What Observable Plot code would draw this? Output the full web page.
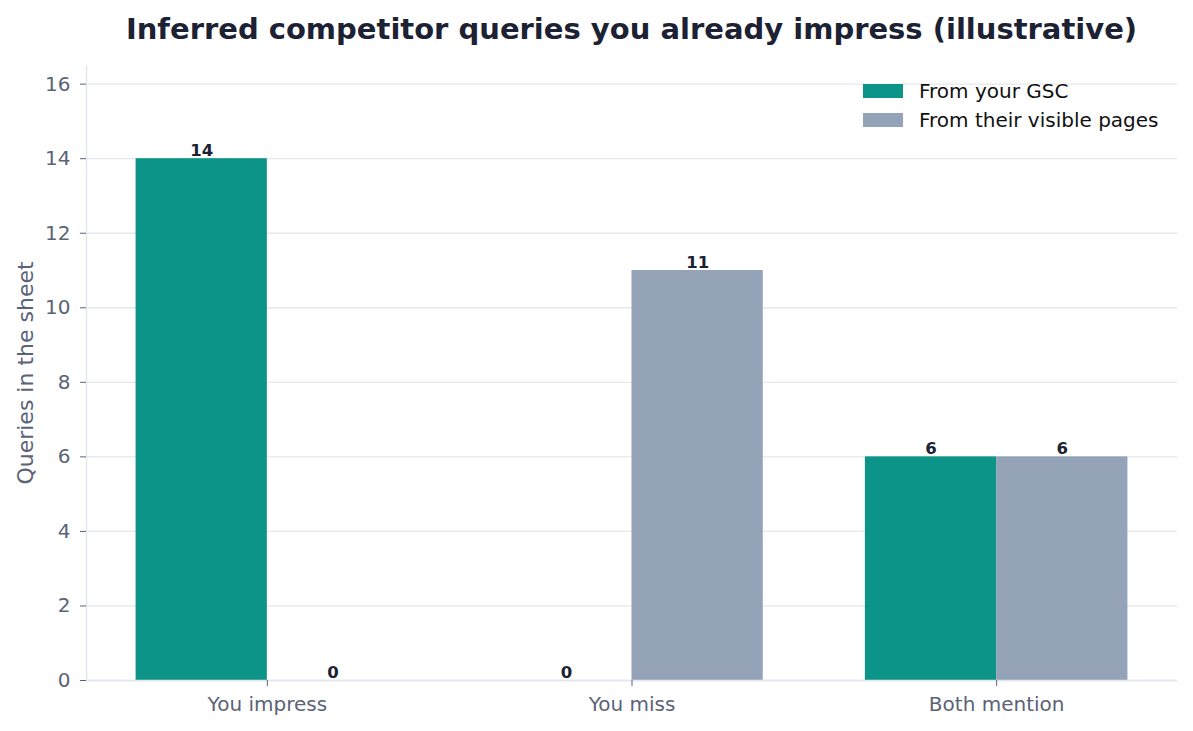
<!DOCTYPE html>
<html>
<head>
<meta charset="utf-8">
<script src="https://cdn.jsdelivr.net/npm/d3@7"></script>
<script src="https://cdn.jsdelivr.net/npm/@observablehq/plot@0.6"></script>
<style>
  html, body { margin: 0; padding: 0; background: #ffffff; }
  body { width: 1193px; height: 731px; overflow: hidden; font-family: "DejaVu Sans", sans-serif; position: relative; }
  #title { height: 56px; line-height: 58px; text-align: center; font-weight: bold; font-size: 29px; color: #1c2233; padding-left: 70px; box-sizing: border-box; white-space: nowrap; }
  #legend { position: absolute; left: 863px; top: 76px; font-size: 20px; color: #111; }
  .item { display: flex; align-items: center; height: 29px; }
  .swatch { width: 40px; height: 14px; margin-right: 16px; }
</style>
</head>
<body>
<div id="title">Inferred competitor queries you already impress (illustrative)</div>
<div id="chart"></div>
<div id="legend"></div>
<script>
const categories = ["You impress", "You miss", "Both mention"];
const gscValues = [14, 0, 6];
const visibleValues = [0, 11, 6];
const seriesNames = ["From your GSC", "From their visible pages"];
const seriesColors = ["#0d9488", "#94a3b8"];
const yTicks = [0, 2, 4, 6, 8, 10, 12, 14, 16];

const barW = 0.36;
const xDomain = [-0.496, 2.496];
const yDomain = [0, 16.5];

const data = categories.flatMap((c, i) => [
  {cat: c, i, series: seriesNames[0], value: gscValues[i], side: -1},
  {cat: c, i, series: seriesNames[1], value: visibleValues[i], side: 1}
]);

const chart = Plot.plot({
  width: 1193,
  height: 675,
  marginLeft: 86,
  marginRight: 16,
  marginTop: 9,
  marginBottom: 51,
  style: {fontFamily: "DejaVu Sans, sans-serif", fontSize: "20px", color: "#5b6377", background: "#ffffff", overflow: "visible"},
  x: {domain: xDomain},
  y: {domain: yDomain},
  color: {domain: seriesNames, range: seriesColors},
  marks: [
    Plot.gridY(yTicks, {stroke: "#e5e8ed", strokeOpacity: 1, strokeWidth: 1.3}),
    Plot.rectY(data, {
      x1: d => d.side < 0 ? d.i - barW : d.i,
      x2: d => d.side < 0 ? d.i : d.i + barW,
      y1: 0, y2: "value", fill: "series"
    }),
    Plot.text(data, {
      x: d => d.i + d.side * barW / 2,
      y: "value",
      text: d => String(d.value),
      dy: -3, lineAnchor: "bottom",
      fontWeight: "bold", fontSize: 16.5, fill: "#1c2233"
    }),
    Plot.ruleX([xDomain[0]], {stroke: "#e2e6ec", strokeWidth: 1.5}),
    Plot.ruleY([0], {stroke: "#e2e6ec", strokeWidth: 1.5}),
    Plot.axisY({ticks: yTicks, tickSize: 6, tickPadding: 10, tickFormat: d => String(d), label: null, fontSize: 20}),
    Plot.axisX({ticks: [0, 1, 2], tickSize: 6, tickPadding: 10, tickFormat: i => categories[i], label: null, fontSize: 20}),
    Plot.text(["Queries in the sheet"], {
      frameAnchor: "left", dx: -61, rotate: -90, textAnchor: "middle", fontSize: 22, fill: "#5b6377", text: d => d
    })
  ]
});
document.getElementById("chart").appendChild(chart);

const legend = document.getElementById("legend");
seriesNames.forEach((name, k) => {
  const item = document.createElement("div");
  item.className = "item";
  const sw = document.createElement("div");
  sw.className = "swatch";
  sw.style.background = seriesColors[k];
  const label = document.createElement("span");
  label.textContent = name;
  item.appendChild(sw);
  item.appendChild(label);
  legend.appendChild(item);
});
</script>
</body>
</html>
